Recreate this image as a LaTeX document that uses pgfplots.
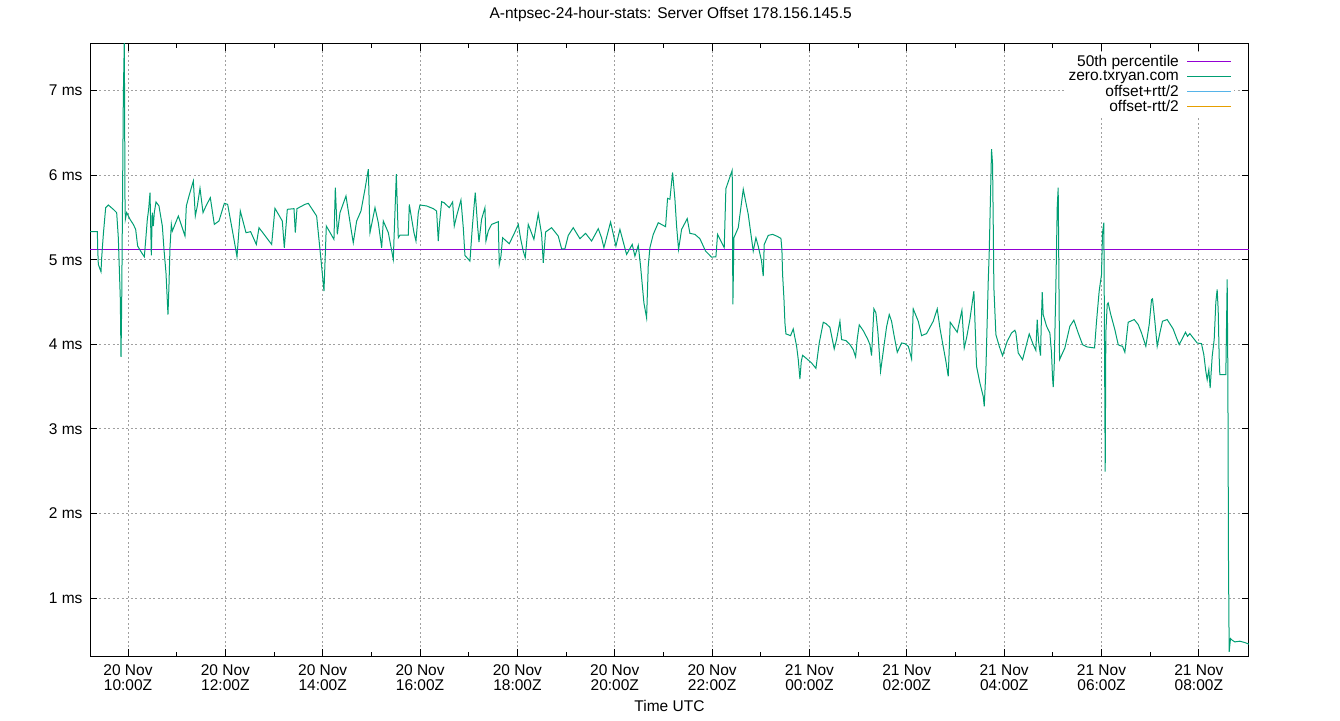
\documentclass[border=0pt]{standalone}
\usepackage{fontspec}
\setmainfont{Liberation Sans}
\usepackage{pgfplots}
\usepackage{pgfplotstable}
\pgfplotsset{compat=1.18}

\definecolor{gpviolet}{RGB}{148,0,211}
\definecolor{gpgreen}{RGB}{0,158,115}
\definecolor{gpblue}{RGB}{86,180,233}
\definecolor{gporange}{RGB}{230,159,0}
\definecolor{gridgray}{RGB}{160,160,160}
\newcommand\gpfont{\fontsize{15.5}{15}\selectfont}

% hours since 20 Nov 00:00Z, offset in ms
\pgfplotstableread{
h ms
9.219 5.333
9.370 5.333
9.377 5.143
9.390 4.946
9.445 4.859
9.459 5.024
9.493 5.301
9.541 5.617
9.596 5.648
9.698 5.597
9.767 5.558
9.801 5.261
9.842 4.531
9.856 3.852
9.870 4.472
9.904 6.940
9.924 7.600
9.938 5.716
9.945 5.479
9.972 5.558
10.041 5.479
10.109 5.419
10.157 5.360
10.198 5.163
10.280 5.084
10.335 5.036
10.362 5.222
10.397 5.479
10.424 5.597
10.452 5.795
10.479 5.052
10.499 5.558
10.520 5.400
10.540 5.558
10.575 5.684
10.636 5.637
10.705 5.400
10.739 5.123
10.780 4.847
10.821 4.353
10.842 4.709
10.862 5.143
10.890 5.419
10.910 5.340
10.965 5.419
11.034 5.518
11.171 5.281
11.198 5.637
11.253 5.755
11.342 5.933
11.383 5.518
11.424 5.637
11.479 5.846
11.541 5.558
11.602 5.637
11.691 5.735
11.773 5.419
11.869 5.459
11.979 5.668
12.047 5.656
12.177 5.242
12.239 5.036
12.307 5.577
12.424 5.321
12.519 5.333
12.636 5.182
12.691 5.380
12.951 5.182
13.019 5.609
13.170 5.459
13.211 5.143
13.273 5.597
13.410 5.605
13.437 5.321
13.471 5.605
13.636 5.656
13.704 5.668
13.875 5.518
13.964 5.005
14.026 4.630
14.074 5.400
14.231 5.242
14.259 5.854
14.300 5.301
14.355 5.558
14.478 5.755
14.594 5.321
14.628 5.202
14.697 5.459
14.786 5.577
14.868 5.834
14.937 6.071
14.971 5.321
15.074 5.617
15.142 5.439
15.211 5.143
15.245 5.459
15.348 5.321
15.450 5.005
15.512 6.012
15.553 5.261
15.587 5.293
15.758 5.293
15.779 5.656
15.806 5.558
15.875 5.321
15.916 5.222
15.964 5.558
15.998 5.648
16.135 5.637
16.272 5.605
16.340 5.577
16.374 5.222
16.395 5.400
16.443 5.688
16.491 5.676
16.600 5.617
16.669 5.684
16.703 5.400
16.751 5.518
16.840 5.708
16.888 5.380
16.922 5.052
17.025 4.985
17.073 5.380
17.107 5.617
17.134 5.795
17.182 5.400
17.210 5.210
17.264 5.479
17.333 5.617
17.354 5.222
17.401 5.340
17.470 5.419
17.607 5.451
17.627 4.945
17.662 5.044
17.696 5.261
17.833 5.190
17.949 5.329
18.018 5.419
18.066 5.250
18.120 5.103
18.161 5.024
18.223 5.419
18.339 5.242
18.428 5.546
18.497 5.301
18.531 4.965
18.579 5.329
18.702 5.380
18.839 5.281
18.908 5.131
18.976 5.131
19.045 5.289
19.147 5.380
19.284 5.250
19.401 5.313
19.524 5.222
19.661 5.368
19.729 5.261
19.777 5.143
19.914 5.447
20.024 5.163
20.106 5.360
20.243 5.064
20.359 5.182
20.414 5.044
20.483 5.171
20.530 4.926
20.599 4.491
20.654 4.314
20.688 4.926
20.722 5.143
20.791 5.301
20.894 5.439
21.044 5.392
21.085 5.727
21.133 5.716
21.188 6.032
21.236 5.716
21.270 5.400
21.311 5.123
21.373 5.360
21.489 5.487
21.544 5.313
21.647 5.301
21.749 5.250
21.866 5.103
21.989 5.032
22.078 5.036
22.112 5.301
22.249 5.143
22.283 5.842
22.413 6.059
22.427 4.472
22.448 5.261
22.537 5.380
22.640 5.834
22.742 5.538
22.845 5.103
22.900 5.261
22.947 5.163
23.016 4.985
23.050 4.807
23.071 5.182
23.153 5.289
23.243 5.301
23.325 5.281
23.414 5.254
23.434 5.123
23.448 4.827
23.476 4.539
23.496 4.254
23.517 4.124
23.612 4.104
23.667 4.183
23.702 4.077
23.736 3.978
23.770 3.820
23.804 3.591
23.832 3.800
23.859 3.871
23.941 3.832
24.044 3.780
24.133 3.717
24.201 4.017
24.284 4.262
24.338 4.246
24.420 4.203
24.468 4.065
24.509 3.946
24.557 4.057
24.626 4.274
24.660 4.057
24.749 4.045
24.831 3.998
24.900 3.938
24.948 3.852
24.982 4.065
25.023 4.231
25.105 4.163
25.194 4.065
25.242 3.998
25.276 3.867
25.324 4.420
25.365 4.373
25.406 4.144
25.461 3.682
25.530 3.978
25.584 4.207
25.639 4.353
25.687 4.274
25.735 4.116
25.804 3.907
25.893 4.017
25.961 4.009
26.030 3.978
26.050 3.938
26.098 3.828
26.132 4.420
26.235 4.274
26.304 4.104
26.406 4.128
26.543 4.274
26.625 4.420
26.680 4.195
26.735 4.017
26.803 3.800
26.851 3.622
26.892 4.262
26.988 4.183
27.036 4.144
27.091 4.294
27.132 4.404
27.180 3.958
27.228 4.077
27.296 4.294
27.378 4.630
27.433 3.741
27.502 3.543
27.570 3.385
27.591 3.267
27.625 3.701
27.673 4.748
27.693 5.084
27.721 5.795
27.741 6.308
27.762 6.130
27.776 5.408
27.789 4.669
27.830 4.116
27.899 3.978
27.967 3.867
28.063 4.037
28.152 4.136
28.220 4.167
28.241 4.136
28.289 3.899
28.378 3.820
28.515 4.124
28.597 3.998
28.651 3.930
28.679 4.294
28.706 4.037
28.747 3.867
28.761 4.207
28.782 4.618
28.802 4.353
28.871 4.215
28.939 4.136
28.973 3.899
28.994 3.603
29.008 3.496
29.028 3.741
29.062 4.669
29.090 5.617
29.110 5.854
29.124 4.847
29.138 3.820
29.247 3.958
29.350 4.215
29.432 4.286
29.521 4.136
29.610 3.998
29.706 3.970
29.857 3.958
29.898 4.274
29.952 4.630
30.000 4.827
30.021 5.321
30.048 5.439
30.062 3.978
30.076 2.497
30.089 4.136
30.117 4.472
30.137 4.491
30.185 4.365
30.274 4.175
30.343 3.998
30.377 3.986
30.432 3.978
30.480 3.907
30.548 4.262
30.671 4.294
30.754 4.235
30.822 4.136
30.911 3.978
30.980 4.235
31.028 4.531
31.048 4.539
31.096 4.274
31.144 3.978
31.199 4.136
31.253 4.274
31.349 4.294
31.472 4.183
31.541 4.077
31.596 3.998
31.678 4.088
31.726 4.144
31.767 4.096
31.815 4.128
31.883 4.077
31.965 4.017
32.054 4.009
32.102 3.879
32.143 3.682
32.171 3.583
32.205 3.701
32.232 3.484
32.274 3.859
32.315 4.057
32.349 4.499
32.376 4.649
32.397 4.412
32.417 3.859
32.431 3.642
32.554 3.642
32.568 4.195
32.582 4.768
32.596 3.642
32.609 1.430
32.623 0.364
32.650 0.523
32.684 0.503
32.739 0.483
32.842 0.491
32.945 0.475
33.034 0.455
}\offsettab

\begin{document}
\begin{tikzpicture}
\useasboundingbox (0,0) rectangle (1340pt,720pt);
\begin{axis}[
    at={(90pt,64pt)}, anchor=south west,
    scale only axis, width=1159pt, height=612pt,
    xmin=9.219, xmax=33.03, ymin=0.316, ymax=7.552,
    axis line style={black, line width=1pt},
    xtick={10,12,...,32},
    xticklabels={{20 Nov\\10:00Z},{20 Nov\\12:00Z},{20 Nov\\14:00Z},{20 Nov\\16:00Z},
        {20 Nov\\18:00Z},{20 Nov\\20:00Z},{20 Nov\\22:00Z},{21 Nov\\00:00Z},
        {21 Nov\\02:00Z},{21 Nov\\04:00Z},{21 Nov\\06:00Z},{21 Nov\\08:00Z}},
    minor xtick={11,13,...,31},
    ytick={1,...,7},
    yticklabels={1 ms,2 ms,3 ms,4 ms,5 ms,6 ms,7 ms},
    tick align=inside,
    major tick length=7pt, minor tick length=4pt,
    every tick/.style={black, line width=1pt},
    xmajorgrids, ymajorgrids,
    major grid style={gridgray, dash pattern=on 2pt off 2.5pt, line width=1pt},
    tick label style={font=\gpfont},
    xticklabel style={align=center, yshift=-5pt},
    yticklabel style={xshift=-4pt},
    title={A-ntpsec-24-hour-stats: Server Offset 178.156.145.5},
    title style={font=\gpfont, at={(axis description cs:0.501,1.039)}, anchor=center},
    xlabel={Time UTC},
    xlabel style={font=\gpfont, at={(axis description cs:0.5,-0.0817)}, anchor=center},
    legend style={draw=none, fill=white, font=\gpfont,
        at={(axis description cs:0.9871,0.988)}, anchor=north east,
        row sep=-1.3pt, column sep=6pt, inner sep=2pt},
    legend cell align=right,
    legend plot pos=right,
    legend image code/.code={\draw[#1] (0pt,0pt) -- (44pt,0pt);},
]
\addplot[gpviolet, line width=1pt] coordinates {(9.219,5.127) (33.03,5.127)};
\addlegendentry{50th percentile}
\addplot[gpgreen, line width=1pt] table[x=h, y=ms] {\offsettab};
\addlegendentry{zero.txryan.com}
\addlegendimage{gpblue, line width=1pt}
\addlegendentry{offset+rtt/2}
\addlegendimage{gporange, line width=1pt}
\addlegendentry{offset-rtt/2}
\end{axis}
\end{tikzpicture}
\end{document}
